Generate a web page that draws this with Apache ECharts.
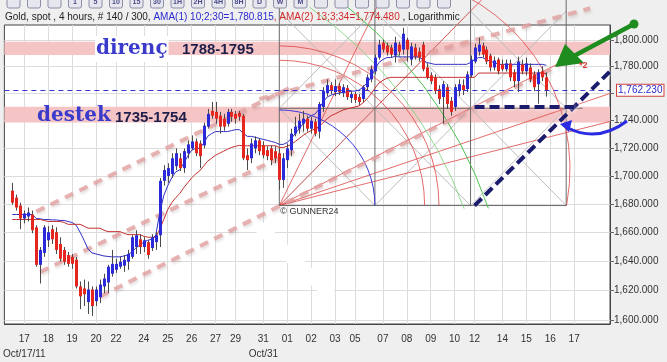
<!DOCTYPE html>
<html><head><meta charset="utf-8">
<script src="https://cdn.jsdelivr.net/npm/echarts@6.0.0/dist/echarts.min.js"></script>
<style>
html,body{margin:0;padding:0;background:#efefef;overflow:hidden}
#chart{width:667px;height:362px}
</style></head><body><div id="chart"></div>
<script>
// ---------------- data ----------------
const dayTicks = ['17','18','19','20','22','24','25','26','27','29','31','01','02','03','05','07','08','09','10','12','14','15','16','17'];
const dayTickBars = [5,11,17,23,28,35,41,47,53,58,65,71,77,83,88,95,101,107,113,118,125,131,137,143];
const monthTicks = {5:'Oct/17/11', 65:'Oct/31'};
const priceTicks = [1600,1620,1640,1660,1680,1700,1720,1740,1760,1780,1800];
const priceLabels = [1600,1620,1640,1660,1680,1700,1720,1740,1780,1800];
const priceRange = [1597.4, 1811.2];
const slotCount = 153;
const firstBar = 2;

const open = [1689.4,1684.5,1678.9,1669.8,1671.2,1672.6,1663.6,1637.6,1645.8,1654.6,
1662.3,1660.2,1652.0,1647.9,1644.4,1643.1,1641.1,1622.8,1621.4,1612.2,
1620.7,1612.8,1615.5,1622.8,1625.5,1631.5,1634.2,1636.3,1637.0,1639.7,
1643.1,1649.9,1655.3,1649.9,1653.3,1649.2,1653.3,1658.1,1696.4,1699.9,
1701.3,1706.9,1712.6,1705.5,1716.2,1719.7,1724.7,1723.3,1721.9,1735.5,
1747.0,1746.3,1743.5,1741.3,1737.6,1746.3,1744.8,1745.5,1743.5,1714.8,
1712.6,1719.7,1725.5,1721.9,1718.4,1719.7,1717.7,1716.2,1697.1,1711.2,
1718.4,1730.4,1734.0,1737.6,1741.3,1734.0,1739.1,1731.9,1749.9,1760.1,
1766.0,1760.9,1765.3,1760.1,1763.8,1756.5,1759.4,1757.2,1755.8,1764.5,
1770.3,1776.3,1786.6,1797.8,1795.6,1794.1,1788.1,1796.3,1792.6,1800.0,
1785.1,1794.1,1791.1,1796.3,1779.2,1773.3,1771.8,1763.1,1757.2,1764.5,
1754.4,1749.9,1761.6,1766.0,1763.1,1773.3,1783.6,1791.1,1795.6,1792.6,
1788.1,1779.2,1785.1,1781.5,1777.8,1782.2,1775.5,1769.0,1781.5,1776.3,
1779.2,1774.0,1766.7,1776.3,1771.8];
const close = [1680.9,1677.5,1669.8,1673.3,1674.0,1661.6,1637.6,1647.9,1663.6,1660.2,
1655.3,1647.9,1641.8,1639.7,1638.3,1638.3,1622.8,1616.1,1617.5,1620.7,
1609.5,1620.7,1624.1,1628.2,1636.3,1638.3,1638.3,1639.7,1641.1,1645.1,
1656.7,1658.1,1649.9,1654.6,1644.4,1656.7,1658.1,1696.4,1704.1,1705.5,
1712.6,1716.2,1705.5,1717.7,1722.6,1724.7,1716.2,1714.1,1736.2,1744.8,
1743.5,1741.3,1735.5,1735.5,1746.3,1742.7,1741.3,1742.7,1712.6,1711.2,
1723.3,1725.5,1717.7,1714.8,1714.1,1711.2,1712.6,1697.1,1712.6,1719.7,
1730.4,1735.5,1739.8,1741.3,1734.0,1739.8,1730.4,1752.1,1761.6,1766.0,
1761.6,1765.3,1760.9,1764.5,1757.2,1759.4,1755.1,1753.6,1764.5,1771.8,
1777.8,1786.6,1796.3,1792.6,1790.4,1788.9,1797.8,1791.1,1804.6,1792.6,
1794.9,1787.4,1786.6,1777.8,1771.8,1769.0,1761.6,1755.8,1766.7,1752.1,
1746.3,1764.5,1766.7,1762.3,1774.0,1785.1,1794.1,1796.3,1788.9,1783.6,
1779.2,1784.4,1776.3,1777.8,1782.2,1771.8,1769.0,1783.6,1776.3,1782.2,
1770.3,1764.5,1775.5,1771.8,1762.2];
const low = [1679.5,1675.4,1662.3,1666.4,1667.7,1659.5,1636.3,1624.8,1643.1,1649.9,
1652.0,1645.1,1639.7,1637.6,1636.3,1634.9,1621.4,1607.4,1609.5,1604.1,
1602.8,1609.5,1611.5,1618.1,1618.1,1629.5,1632.1,1634.9,1632.8,1634.2,
1641.8,1645.1,1645.1,1646.5,1641.8,1647.2,1647.9,1649.9,1693.0,1695.0,
1698.5,1704.1,1703.5,1702.1,1712.6,1718.4,1714.1,1705.5,1719.7,1734.0,
1741.3,1737.6,1730.4,1732.6,1735.5,1739.1,1737.6,1739.8,1711.2,1704.1,
1709.1,1716.2,1714.8,1712.6,1711.2,1707.6,1709.1,1690.1,1691.5,1705.5,
1714.1,1728.4,1730.4,1731.9,1731.9,1730.4,1728.4,1726.9,1746.3,1757.9,
1759.4,1757.9,1758.7,1757.2,1755.1,1752.9,1752.9,1751.4,1753.6,1761.6,
1768.2,1774.0,1785.1,1790.4,1788.1,1786.6,1782.9,1788.1,1788.9,1783.6,
1780.7,1785.1,1783.6,1776.3,1770.3,1766.7,1759.4,1752.1,1737.6,1748.5,
1743.5,1747.0,1757.9,1758.7,1760.9,1771.8,1782.2,1788.1,1786.6,1781.5,
1776.3,1777.0,1774.0,1776.3,1776.3,1769.0,1764.5,1760.9,1774.0,1773.3,
1768.2,1761.6,1752.1,1769.0,1757.5];
const high = [1695.0,1686.6,1680.9,1675.4,1677.5,1675.4,1665.1,1649.9,1665.1,1664.4,
1665.1,1663.7,1656.7,1649.9,1646.5,1645.1,1643.1,1626.2,1627.5,1626.2,
1622.8,1622.8,1627.5,1631.5,1637.6,1647.9,1641.8,1643.1,1644.4,1647.9,
1658.1,1661.6,1658.8,1656.7,1654.6,1658.8,1660.2,1698.5,1707.6,1709.0,
1716.2,1719.7,1716.2,1719.7,1725.5,1729.1,1726.9,1725.5,1738.4,1748.5,
1753.6,1753.6,1746.3,1744.8,1748.5,1748.5,1747.0,1747.0,1744.8,1719.7,
1726.9,1728.4,1726.9,1724.7,1721.2,1721.9,1721.2,1719.7,1716.2,1723.3,
1734.0,1742.7,1744.8,1747.0,1743.5,1742.7,1741.3,1753.6,1764.5,1770.3,
1768.2,1770.3,1767.5,1766.7,1766.0,1761.6,1760.9,1759.4,1766.0,1774.0,
1780.7,1788.9,1800.0,1800.0,1797.8,1796.3,1802.3,1798.5,1809.1,1801.5,
1797.8,1797.0,1794.1,1798.5,1782.2,1775.5,1774.0,1766.0,1769.0,1766.7,
1757.2,1766.7,1770.3,1770.3,1776.3,1788.1,1797.0,1801.5,1797.8,1794.9,
1789.6,1787.4,1786.6,1785.1,1785.1,1785.1,1777.8,1787.4,1785.1,1786.6,
1782.2,1776.3,1777.8,1780.0,1775.5];
const ama1 = [1672.6,1672.6,1672.6,1672.6,1672.6,1672.6,
1669.8,1669.5,1669.1,1669.1,1668.8,1668.8,1668.4,1668.4,1667.7,1667.0,
1665.1,1660.2,1654.6,1648.5,1645.8,1645.1,1644.4,1643.7,1643.4,1643.1,
1643.1,1643.1,1643.7,1644.4,1646.5,1649.2,1651.3,1653.3,1654.6,1655.3,
1658.1,1674.0,1685.9,1693.0,1698.5,1702.8,1704.2,1709.0,1714.1,1718.4,
1719.7,1719.7,1723.3,1728.4,1730.4,1731.9,1731.9,1731.9,1731.9,1732.6,
1733.3,1733.3,1730.4,1728.4,1728.4,1727.7,1726.9,1726.2,1725.5,1724.7,
1724.0,1722.6,1722.6,1724.0,1726.9,1730.4,1734.0,1737.6,1741.3,1743.5,
1744.8,1748.5,1753.6,1757.2,1758.7,1759.4,1760.1,1760.9,1760.9,1761.6,
1761.6,1762.3,1764.5,1767.5,1771.8,1777.8,1782.9,1785.1,1786.6,1786.6,
1787.4,1787.1,1787.1,1787.1,1787.1,1787.1,1787.1,1785.1,1782.9,1782.2,
1781.5,1781.5,1781.5,1781.5,1781.5,1781.5,1781.5,1781.5,1781.5,
1782.9,1785.1,1786.6,1786.6,1785.1,1783.6,1782.9,
1781.5,1781.5,1781.5,1781.5,1781.5,1781.5,1781.5,1781.5,1781.5,1781.5,1781.5,1781.5,1780.8];
const ama2 = [1669.1,1669.1,1669.1,1669.1,1669.1,1669.1,1669.1,1669.1,
1668.4,1667.7,1667.7,1667.7,1667.7,1667.0,1665.7,1665.7,1665.7,1665.7,1664.4,
1663.0,1663.0,1663.0,1663.0,1661.6,1660.6,1660.6,1660.6,1660.6,1659.5,
1658.5,1658.5,1658.5,1658.5,1657.4,1656.7,1656.7,1656.7,
1662.3,1669.1,1676.1,1680.9,1684.5,1687.3,1691.5,1695.0,1698.5,1701.3,1703.5,
1706.9,1710.5,1712.6,1714.8,1716.2,1717.7,1719.1,1720.4,1721.2,1721.9,
1721.6,1721.6,1721.6,1721.6,1721.6,1721.6,1721.6,1721.6,1721.6,
1720.4,1720.4,1721.2,1722.6,1724.7,1726.9,1729.1,1731.1,1732.6,1734.0,
1735.5,1738.4,1741.3,1743.5,1744.8,1746.3,1747.7,1748.5,1749.2,1749.9,
1750.7,1752.9,1755.8,1759.4,1763.8,1767.5,1769.6,1771.1,
1771.8,1771.8,1771.8,1771.8,1771.8,1771.8,1771.8,1771.8,1771.8,1771.8,1771.8,
1771.8,1771.8,1771.8,1771.8,1771.8,1771.8,1771.8,1771.8,1771.8,1771.8,1771.8,
1775.0,1775.0,1775.0,1775.0,1775.0,1775.0,1775.0,1775.0,1775.0,
1775.0,1775.0,1775.0,1775.0,1775.0,1775.0,1775.0,1775.0,1774.5];
const lastPrice = 1762.23;
const resistanceBand = [1788.5, 1798.5];
const supportBand = [1738.5, 1750.0];
// Gann box: origin bar / price, box size in bars / price
const gannOrigin = [68.5, 1678.9];
const gannBox = [24.7, 70.0];
// channel lines (bar, price) pairs
const channelA = [[7.5, 1674.7], [71.9, 1764.5]];
const channelB = [[8.5, 1632.8], [73.6, 1719.7]];
const channelC = [[23.5, 1616.0], [138.5, 1780.7]];
const channelD = [[63.9, 1755.8], [147.0, 1824.0]];
// navy dashed target lines
const targetDiag = [[118, 1678.9], [152, 1776.3]];
const targetFlat = [[118, 1749.9], [142.5, 1749.9]];
// toolbar buttons (decoration at the very top)
const toolbarButtons = ['', '', '', '1', '5', '10', '15', '30', '1H', '2H', '4H', '8H', 'D', 'W', 'M', '', '', '', '', '', '', ''];

// ---------------- chart ----------------
const chart = echarts.init(document.getElementById('chart'), null, {width:667, height:362});
const FONT = 'Liberation Sans, Arial, sans-serif';
const cats = []; for (let i = 0; i < slotCount; i++) cats.push(String(i));
const candleData = open.map((o,k)=>[firstBar+k, o, close[k], low[k], high[k]]);
const ama1Data = ama1.map((v,k)=>[firstBar+k, v]);
const ama2Data = ama2.map((v,k)=>[firstBar+k, v]);

function fmtPrice(v){ const s = Number(v).toFixed(3); return s[0] + ',' + s.slice(1); }

function clipSeg(x1,y1,x2,y2,r){
  let t0=0,t1=1; const dx=x2-x1, dy=y2-y1;
  const p=[-dx,dx,-dy,dy], q=[x1-r[0], r[2]-x1, y1-r[1], r[3]-y1];
  for(let i=0;i<4;i++){
    if(p[i]===0){ if(q[i]<0) return null; }
    else { const t=q[i]/p[i]; if(p[i]<0){ if(t>t1) return null; if(t>t0) t0=t; } else { if(t<t0) return null; if(t<t1) t1=t; } }
  }
  return {x1:x1+t0*dx, y1:y1+t0*dy, x2:x1+t1*dx, y2:y1+t1*dy};
}

function gannRender(params, api){
  const cs = params.coordSys;
  const R = [cs.x, 0, cs.x+cs.width, cs.y+cs.height];
  const O = api.coord(gannOrigin);
  const bx = api.coord([gannOrigin[0]+gannBox[0], gannOrigin[1]])[0]-O[0];
  const by = O[1]-api.coord([gannOrigin[0], gannOrigin[1]+gannBox[1]])[1];
  const P = (u,v)=>[O[0]+u*bx, O[1]-v*by];
  const kids = [];
  const seg = (a,b,style)=>{ const s=clipSeg(a[0],a[1],b[0],b[1],R); if(s) kids.push({type:'line', shape:s, style:style}); };
  const gray = {stroke:'#bdbdbd', lineWidth:1};
  const red = {stroke:'rgba(222,70,70,0.8)', lineWidth:1};
  const box = {stroke:'#6a6a6a', lineWidth:1};
  for (let c=0;c<3;c++) for (let r=0;r<2;r++){
    seg(P(c,r),P(c+1,r+1),gray); seg(P(c,r+1),P(c+1,r),gray);
  }
  [[1,2],[1,1],[2,1],[3,1],[4,1]].forEach(f=>seg(P(0,0),P(f[0]*6,f[1]*6),red));
  for (let c=0;c<=3;c++) seg(P(c,0),P(c,2.2),box);
  seg(P(0,0),P(3,0),box); seg(P(0,1),P(3.17,1),box);
  const arcs = [
    [0,0,1,-90,0,'#3a3ad8'],
    [0,0,1.52,-90,0,'rgba(222,70,70,0.8)'],
    [0,0,1.67,-90,0,'rgba(222,70,70,0.8)'],
    [1.0,0.38,2.04,-80,11,'rgba(222,70,70,0.8)'],
    [-2.22,-1.52,4.66,-55,-19,'#4ec24e'],
    [-2.22,-1.52,4.42,-55,-20,'rgba(120,210,120,0.8)']
  ];
  arcs.forEach(a=>{
    const c = P(a[0],a[1]);
    kids.push({type:'arc', shape:{cx:c[0], cy:c[1], r:a[2]*bx, startAngle:a[3]*Math.PI/180, endAngle:a[4]*Math.PI/180, clockwise:true},
      style:{stroke:a[5], fill:null, lineWidth:1}});
  });
  return {type:'group', children:kids};
}

function channelRender(params, api){
  const cs = params.coordSys;
  const R = [cs.x, 0, cs.x+cs.width, cs.y+cs.height];
  const kids = [];
  [channelA, channelB, channelC, channelD].forEach(L=>{
    const a = api.coord(L[0]), b = api.coord(L[1]);
    const s = clipSeg(a[0],a[1],b[0],b[1],R);
    if (s) kids.push({type:'line', shape:s, style:{stroke:'rgba(226,160,160,0.8)', lineWidth:4, lineDash:[9,7],
      shadowColor:'rgba(120,80,80,0.25)', shadowBlur:3, shadowOffsetX:1, shadowOffsetY:2}});
  });
  return {type:'group', children:kids};
}

function targetRender(params, api){
  const kids = [];
  [targetDiag, targetFlat].forEach(L=>{
    const a = api.coord(L[0]), b = api.coord(L[1]);
    kids.push({type:'line', shape:{x1:a[0],y1:a[1],x2:b[0],y2:b[1]},
      style:{stroke:'#1b1b6e', lineWidth:4, lineDash:[10,5], shadowColor:'rgba(255,255,255,0.9)', shadowBlur:4}});
  });
  return {type:'group', children:kids};
}

function candleRender(params, api){
  const i = api.value(0);
  const o = api.value(1), c = api.value(2), l = api.value(3), h = api.value(4);
  const pO = api.coord([i,o]), pC = api.coord([i,c]);
  const pL = api.coord([i,l]), pH = api.coord([i,h]);
  const x = Math.round(pO[0]);
  const up = c >= o;
  const top = Math.min(pO[1], pC[1]);
  const ht = Math.max(Math.abs(pO[1]-pC[1]), 1.5);
  return {type:'group', children:[
    {type:'line', shape:{x1:x+0.5, y1:pH[1], x2:x+0.5, y2:pL[1]}, style:{stroke:'#4a4a4a', lineWidth:1}},
    {type:'rect', shape:{x:x-1, y:top, width:3, height:ht}, style:{fill: up ? '#2a2ad8' : '#e4261f'}}
  ]};
}

const option = {
  backgroundColor:'#efefef',
  animation:false,
  grid:{left:3, right:57, top:25, bottom:34, show:true, backgroundColor:'#ffffff', borderColor:'#444', borderWidth:1},
  xAxis:{type:'category', data:cats, boundaryGap:false,
    axisLine:{show:true, lineStyle:{color:'#444'}}, axisTick:{show:false},
    axisLabel:{interval:0, fontSize:10, fontFamily:FONT, color:'#333', lineHeight:15, margin:8,
      formatter:(v,idx)=>{ const k = dayTickBars.indexOf(idx); if (k<0) return ''; return monthTicks[idx] ? dayTicks[k]+'\n'+monthTicks[idx] : dayTicks[k]; }},
    splitLine:{show:true, interval:(idx)=>dayTickBars.indexOf(idx)>=0, lineStyle:{color:'#dcdcdc', width:1}}},
  yAxis:{type:'log', logBase:10, position:'right', min:priceRange[0], max:priceRange[1],
    axisLine:{show:true, lineStyle:{color:'#444'}},
    axisTick:{show:true, length:4, lineStyle:{color:'#666'}, customValues:priceTicks},
    axisLabel:{fontSize:10, fontFamily:FONT, color:'#333', margin:4, customValues:priceLabels,
      formatter:(v)=> fmtPrice(v)},
    splitLine:{show:true, lineStyle:{color:'#dcdcdc', width:1}}},
  series:[
    {type:'line', name:'bands', data:[], z:1, silent:true,
      markArea:{silent:true, itemStyle:{color:'#f5c4c4'}, data:[
        [{yAxis:resistanceBand[0]},{yAxis:resistanceBand[1]}],
        [{yAxis:supportBand[0]},{yAxis:supportBand[1]}]]},
      markLine:{silent:true, symbol:'none', label:{show:false}, lineStyle:{color:'#3535c8', type:[5,4], width:1},
        data:[{yAxis:lastPrice}]}},
    {type:'custom', name:'gann', data:[[0,1700]], renderItem:gannRender, z:2, silent:true, clip:false},
    {type:'custom', name:'channel', data:[[0,1700]], renderItem:channelRender, z:2, silent:true, clip:false},
    {type:'line', name:'AMA(1)', data:ama1Data, symbol:'none', lineStyle:{color:'#2f2fc4', width:1}, z:3, silent:true},
    {type:'line', name:'AMA(2)', data:ama2Data, symbol:'none', lineStyle:{color:'#c42f2f', width:1}, z:3, silent:true},
    {type:'custom', name:'candles', data:candleData, renderItem:candleRender, encode:{x:0, y:[1,2,3,4]}, z:4, silent:true},
    {type:'custom', name:'target', data:[[0,1700]], renderItem:targetRender, z:6, silent:true, clip:false}
  ]
};
chart.setOption(option);

const yLast = chart.convertToPixel({yAxisIndex:0}, lastPrice);
const O = chart.convertToPixel({xAxisIndex:0, yAxisIndex:0}, gannOrigin);
const graphics = [];
// toolbar strip (only its lower half is visible)
toolbarButtons.forEach((t,k)=>{
  const x = 7 + k*20.5;
  graphics.push({type:'rect', z:18, silent:true, shape:{x:x, y:-6, width:13, height:14, r:2},
    style:{fill:'#e6e6ee', stroke:'#8e8ea8', lineWidth:1}});
  if (t) graphics.push({type:'text', z:19, silent:true, x:x+6.5, y:2, style:{text:t, fill:'#4a4a8a', font:'bold 7px "Liberation Sans", Arial, sans-serif', align:'center', verticalAlign:'middle'}});
});
graphics.push(
  {type:'text', left:5, top:12, z:20, style:{
    text:'{k|Gold, spot , 4 hours, # 140 / 300, }{b|AMA(1) 10;2;30=1,780.815}{r|, AMA(2) 13;3;34=1,774.480}{k| , Logarithmic}',
    rich:{k:{fill:'#222', fontSize:10, fontFamily:FONT}, b:{fill:'#2b2bd0', fontSize:10, fontFamily:FONT}, r:{fill:'#d02b2b', fontSize:10, fontFamily:FONT}}}},
  {type:'polyline', z:15, silent:true, shape:{points:[[262,229],[296,262],[328,292]]},
    style:{stroke:'#ffffff', lineWidth:13, lineCap:'round', fill:null}},
  {type:'text', x:95, y:49, z:20, style:{text:'direnç', fill:'#3a3acb', font:'bold 20px "DejaVu Serif", serif',
    verticalAlign:'middle', backgroundColor:'#ffffff', padding:[3,1,3,1]}},
  {type:'text', x:182, y:50, z:20, style:{text:'1788-1795', fill:'#1d1d4a', font:'bold 15px "Liberation Sans", Arial, sans-serif', verticalAlign:'middle'}},
  {type:'text', x:37, y:116, z:20, style:{text:'destek', fill:'#3a3acb', font:'bold 20px "DejaVu Serif", serif', verticalAlign:'middle'}},
  {type:'text', x:115, y:118, z:20, style:{text:'1735-1754', fill:'#1d1d4a', font:'bold 15px "Liberation Sans", Arial, sans-serif', verticalAlign:'middle'}},
  {type:'text', x:O[0]+1, y:O[1]+6, z:20, style:{text:'© GUNNER24', fill:'#333', font:'9px "Liberation Sans", Arial, sans-serif', verticalAlign:'middle'}},
  {type:'line', z:20, shape:{x1:634,y1:24,x2:572,y2:57}, style:{stroke:'#1e8c1e', lineWidth:4.5}},
  {type:'circle', z:20, shape:{cx:634,cy:24,r:4.5}, style:{fill:'#1e8c1e'}},
  {type:'polygon', z:20, shape:{points:[[555,67],[565,44],[584,63]]}, style:{fill:'#1e8c1e'}},
  {type:'text', x:579, y:66, z:20, style:{text:'*2', fill:'#e03a3a', font:'bold 9px "Liberation Sans", Arial, sans-serif', verticalAlign:'middle'}},
  {type:'bezierCurve', z:20, shape:{x1:627,y1:121,cpx1:598,cpy1:143,x2:568,y2:128}, style:{stroke:'#2a2ae0', lineWidth:3, fill:null}},
  {type:'polygon', z:20, shape:{points:[[560,124],[572,120],[569,132]]}, style:{fill:'#2a2ae0'}},
  {type:'text', x:617, y:yLast, z:20, style:{text:fmtPrice(lastPrice), fill:'#2b2bd0', font:'10px "Liberation Sans", Arial, sans-serif',
    verticalAlign:'middle', backgroundColor:'#ffffff', borderColor:'#d04040', borderWidth:1, padding:[1,1,0,1]}}
);
chart.setOption({graphic:graphics});
</script></body></html>
